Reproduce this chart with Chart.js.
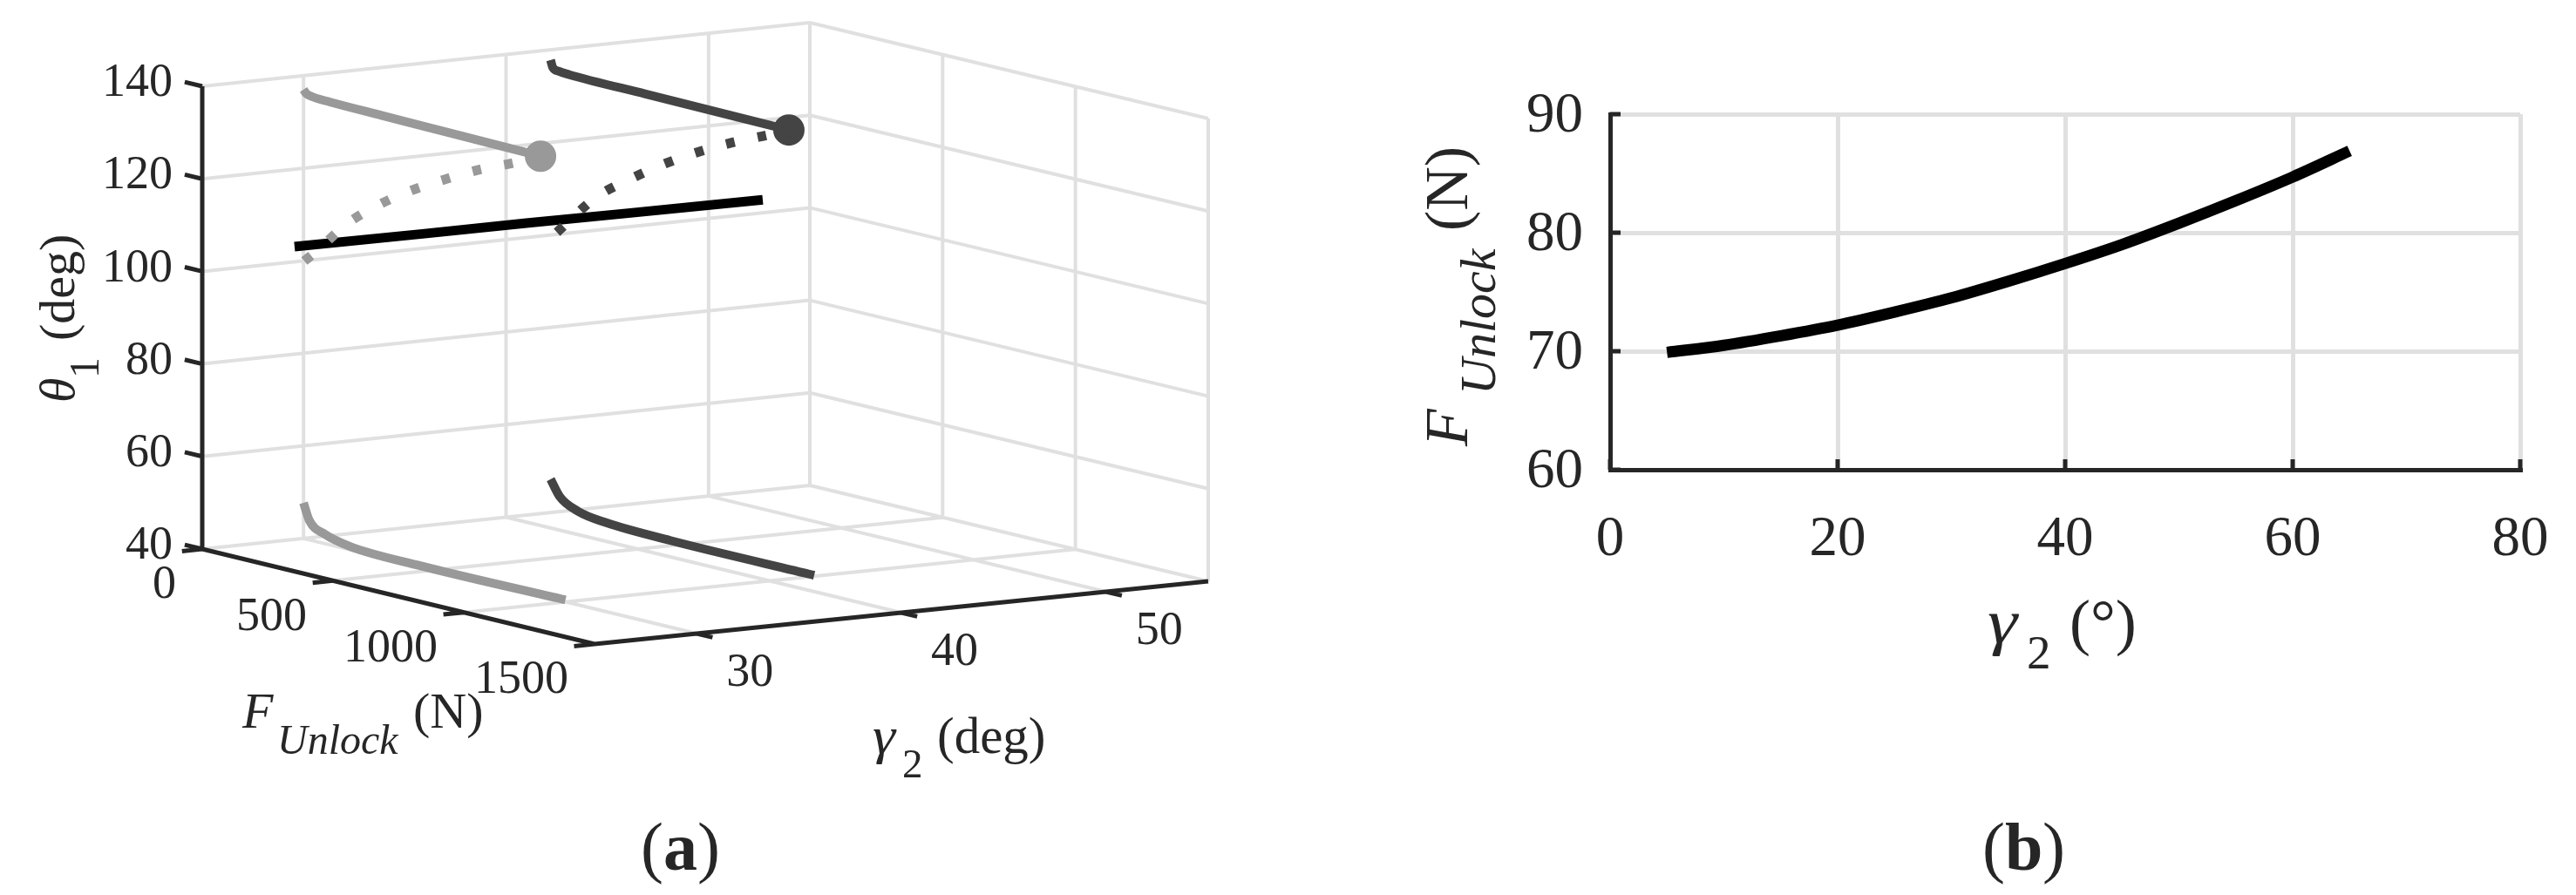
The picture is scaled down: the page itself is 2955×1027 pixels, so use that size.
<!DOCTYPE html>
<html>
<head>
<meta charset="utf-8">
<script src="https://cdn.jsdelivr.net/npm/chart.js@4/dist/chart.umd.min.js"></script>
<style>
  html, body { margin: 0; background: #fff; }
  canvas { position: absolute; top: 0; }
  #chartA { left: 0; }
  #chartB { left: 1478px; }
</style>
</head>
<body>
<canvas id="chartA" width="1478" height="1027"></canvas>
<canvas id="chartB" width="1477" height="1027"></canvas>
<script>
// (a) tick labels
const gammaTicks = [30, 40, 50];
const forceTicks = [0, 500, 1000, 1500];
const thetaTicks = [40, 60, 80, 100, 120, 140];

// (a) gamma2 = 30 curves, light grey
const lightGamma = 30;
const lightTopF = [0, 10, 33, 100, 300, 540, 904];
const lightTopTheta = [137.0, 136.3, 135.9, 135.7, 135.5, 135.3, 135.0];
const lightBottomF = [0, 22, 82, 178, 448, 999];
const lightBottomTheta = [47.7, 44.2, 42.0, 40.7, 40.2, 40.4];
const lightDotF = [3, 52, 161, 275, 402, 530, 671, 804, 904];
const lightDotTheta = [100.0, 102.9, 110.0, 115.5, 120.5, 124.7, 128.9, 132.2, 135.0];

// (a) gamma2 = 42 curves, dark grey
const darkGamma = 42.2;
const darkTopF = [0, 8, 30, 71, 360, 903];
const darkTopTheta = [137.8, 136.3, 135.8, 135.6, 135.4, 135.1];
const darkBottomF = [0, 35, 104, 211, 454, 999];
const darkBottomTheta = [47.2, 43.9, 41.7, 40.7, 40.2, 40.2];
const darkDotF = [24, 176, 299, 424, 556, 684, 823, 903];
const darkDotTheta = [100.9, 110.7, 116.1, 121.0, 125.5, 129.3, 132.9, 135.1];

// (a) black line
const blackGamma = [28.6, 35, 40, 45, 51.6];
const blackF = [74, 75, 77, 79, 82];
const blackTheta = [104.7, 104.6, 104.6, 104.5, 104.4];

// (b)
const curveGamma = [5, 10, 15, 20, 25, 30, 35, 40, 45, 50, 55, 60, 65];
const curveForce = [69.9, 70.5, 71.3, 72.2, 73.3, 74.5, 75.9, 77.4, 79.0, 80.8, 82.7, 84.7, 86.9];
const xTicksB = [0, 20, 40, 60, 80];
const yTicksB = [60, 70, 80, 90];

const SERIF = '"Liberation Serif"';
const TEXT = '#262626';
const GRID = '#e0e0e0';

// MATLAB style 3D box: floor corners on the page, slight perspective
const G0 = 25, G1 = 55, F0 = 0, F1 = 1500, T0 = 40;
const corners = { back0: [232, 630], back1: [929, 557], front0: [682, 739], front1: [1386, 667] };
function project(g, f, t) {
  const u = (g - G0) / (G1 - G0), v = (f - F0) / (F1 - F0);
  const c = corners;
  const at = i => (1 - u) * (1 - v) * c.back0[i] + u * (1 - v) * c.back1[i] + (1 - u) * v * c.front0[i] + u * v * c.front1[i];
  return { x: at(0), y: at(1) - 5.31 * (t - T0) };
}
const gap = { x: NaN, y: NaN };

function segments(list) {
  const pts = [];
  list.forEach(s => { s.forEach(p => pts.push(project(p[0], p[1], p[2]))); pts.push(gap); });
  return pts;
}

// walls and floor
const gridSegs = [];
thetaTicks.forEach(t => {
  gridSegs.push([[G0, F0, t], [G1, F0, t]]);
  gridSegs.push([[G1, F0, t], [G1, F1, t]]);
});
gammaTicks.forEach(g => {
  gridSegs.push([[g, F0, 40], [g, F0, 140]]);
  gridSegs.push([[g, F0, 40], [g, F1, 40]]);
});
forceTicks.slice(1).forEach(f => {
  gridSegs.push([[G1, f, 40], [G1, f, 140]]);
  if (f < F1) gridSegs.push([[G0, f, 40], [G1, f, 40]]);
});
gridSegs.push([[G1, F0, 40], [G1, F0, 140]]);

const axisSegs = [
  [[G0, F0, 40], [G0, F0, 140]],
  [[G0, F0, 40], [G0, F1, 40]],
  [[G0, F1, 40], [G1, F1, 40]]
];
thetaTicks.forEach(t => axisSegs.push([[G0, F0, t], [G0, -67, t]]));
forceTicks.forEach(f => axisSegs.push([[G0, f, 40], [24, f, 40]]));
gammaTicks.forEach(g => axisSegs.push([[g, F1, 40], [g, 1560, 40]]));

function curve(gs, fs, ts) {
  return fs.map((f, i) => project(Array.isArray(gs) ? gs[i] : gs, f, ts[i]));
}

function line(data, color, width, extra) {
  return Object.assign({
    type: 'scatter', data: data, showLine: true, borderColor: color, backgroundColor: color,
    borderWidth: width, pointRadius: 0, borderCapStyle: 'butt', spanGaps: false
  }, extra || {});
}
const smooth = { cubicInterpolationMode: 'monotone' };
const endDot = pts => ({ pointRadius: ctx => ctx.dataIndex === pts.length - 1 ? 13 : 0 });

// draw order, first at the bottom
const lightTop = curve(lightGamma, lightTopF, lightTopTheta);
const darkTop = curve(darkGamma, darkTopF, darkTopTheta);
const layersA = [
  line(segments(gridSegs), GRID, 4),
  line(curve(lightGamma, lightBottomF, lightBottomTheta), '#999999', 10, smooth),
  line(curve(darkGamma, darkBottomF, darkBottomTheta), '#444444', 10, smooth),
  line(curve(blackGamma, blackF, blackTheta), '#000000', 11),
  line(curve(lightGamma, lightDotF, lightDotTheta), '#999999', 11, Object.assign({ borderDash: [10, 27] }, smooth)),
  line(curve(darkGamma, darkDotF, darkDotTheta), '#444444', 11, Object.assign({ borderDash: [10, 27] }, smooth)),
  line(lightTop, '#999999', 10, Object.assign(endDot(lightTop), smooth)),
  line(darkTop, '#444444', 10, Object.assign(endDot(darkTop), smooth)),
  line(segments(axisSegs), TEXT, 5)
];
layersA.forEach((d, i) => { d.order = layersA.length - i; });

// text with subscripts, x/y start the baseline, along = distance along it, wide = stretch of a glyph
function rich(ctx, x, y, rotate, parts) {
  ctx.save();
  ctx.translate(x, y);
  ctx.rotate(rotate);
  ctx.textAlign = 'left';
  ctx.textBaseline = 'alphabetic';
  ctx.fillStyle = TEXT;
  parts.forEach(p => {
    ctx.save();
    ctx.font = p.font;
    ctx.translate(p.along, p.drop || 0);
    ctx.scale(p.wide || 1, 1);
    ctx.fillText(p.text, 0, 0);
    ctx.restore();
  });
  ctx.restore();
}

const plainFont = s => s + 'px ' + SERIF;
const italicFont = s => 'italic ' + s + 'px ' + SERIF;
const boldFont = s => 'bold ' + s + 'px ' + SERIF;

const labelsA = {
  id: 'labelsA',
  afterDraw(chart) {
    const ctx = chart.ctx;
    const sx = chart.scales.x, sy = chart.scales.y;
    ctx.save();
    ctx.fillStyle = TEXT;
    ctx.font = plainFont(54);
    ctx.textBaseline = 'middle';
    ctx.textAlign = 'right';
    thetaTicks.forEach(t => {
      const p = project(G0, F0, t);
      ctx.fillText(String(t), sx.getPixelForValue(p.x) - 34, sy.getPixelForValue(p.y) - 3);
    });
    forceTicks.forEach(f => {
      const p = project(G0, f, 40);
      ctx.fillText(String(f), sx.getPixelForValue(p.x) - 30, sy.getPixelForValue(p.y) + 42);
    });
    ctx.textAlign = 'center';
    gammaTicks.forEach(g => {
      const p = project(g, F1, 40);
      ctx.fillText(String(g), sx.getPixelForValue(p.x) + 61, sy.getPixelForValue(p.y) + 46);
    });
    ctx.restore();

    rich(ctx, 85, 462, -Math.PI / 2, [
      { text: 'θ', font: italicFont(58), along: 0 },
      { text: '1', font: plainFont(48), along: 28, drop: 28 },
      { text: '(deg)', font: plainFont(58), along: 71 }
    ]);
    rich(ctx, 278, 835, 0, [
      { text: 'F', font: italicFont(58), along: 0 },
      { text: 'Unlock', font: italicFont(48), along: 40, drop: 30 },
      { text: '(N)', font: plainFont(58), along: 196 }
    ]);
    rich(ctx, 1000, 864, 0, [
      { text: 'γ', font: italicFont(60), along: 1, wide: 1.1 },
      { text: '2', font: plainFont(47), along: 35, drop: 28 },
      { text: '(deg)', font: plainFont(59), along: 75 }
    ]);
    rich(ctx, 735, 998, 0, [
      { text: '(', font: plainFont(78), along: 0 },
      { text: 'a', font: boldFont(78), along: 26 },
      { text: ')', font: plainFont(78), along: 65 }
    ]);
  }
};

new Chart(document.getElementById('chartA'), {
  data: { datasets: layersA },
  options: {
    responsive: false,
    animation: false,
    layout: { padding: 0, autoPadding: false },
    plugins: { legend: { display: false }, tooltip: { enabled: false } },
    scales: {
      x: { type: 'linear', display: false, min: 0, max: 1478 },
      y: { type: 'linear', display: false, min: 0, max: 1027, reverse: true }
    }
  },
  plugins: [labelsA]
});

const labelsB = {
  id: 'labelsB',
  afterDraw(chart) {
    const ctx = chart.ctx;
    const sx = chart.scales.x, sy = chart.scales.y;
    const a = chart.chartArea;
    // inward ticks
    ctx.save();
    ctx.strokeStyle = TEXT;
    ctx.lineWidth = 5;
    ctx.beginPath();
    xTicksB.forEach(v => {
      const px = sx.getPixelForValue(v);
      ctx.moveTo(px, a.bottom);
      ctx.lineTo(px, a.bottom - 12);
    });
    yTicksB.forEach(v => {
      const py = sy.getPixelForValue(v);
      ctx.moveTo(a.left, py);
      ctx.lineTo(a.left + 12, py);
    });
    ctx.stroke();
    ctx.restore();

    rich(ctx, 1683 - 1478, 512, -Math.PI / 2, [
      { text: 'F', font: italicFont(70), along: 0 },
      { text: 'Unlock', font: italicFont(58), along: 59, drop: 32 },
      { text: '(N)', font: plainFont(70), along: 247 }
    ]);
    rich(ctx, 2280 - 1478, 738, 0, [
      { text: 'γ', font: italicFont(72), along: 0, wide: 1.2 },
      { text: '2', font: plainFont(55), along: 45, drop: 29 },
      { text: '(°)', font: plainFont(72), along: 94 }
    ]);
    rich(ctx, 2274 - 1478, 998, 0, [
      { text: '(', font: plainFont(78), along: 0 },
      { text: 'b', font: boldFont(78), along: 26 },
      { text: ')', font: plainFont(78), along: 69 }
    ]);
  }
};

new Chart(document.getElementById('chartB'), {
  data: {
    datasets: [line(curveGamma.map((g, i) => ({ x: g, y: curveForce[i] })), '#000000', 13, smooth)]
  },
  options: {
    responsive: false,
    animation: false,
    layout: { padding: { top: 131, right: 64, bottom: 0, left: 0 }, autoPadding: false },
    plugins: { legend: { display: false }, tooltip: { enabled: false } },
    scales: {
      x: {
        type: 'linear', min: 0, max: 80,
        afterBuildTicks: s => { s.ticks = xTicksB.map(v => ({ value: v })); },
        afterFit: s => { s.height = 488; s.paddingLeft = 0; s.paddingRight = 0; },
        grid: { color: GRID, lineWidth: 5, drawTicks: false },
        border: { color: TEXT, width: 5 },
        ticks: { color: TEXT, font: { family: SERIF, size: 65 }, padding: 42, maxRotation: 0 }
      },
      y: {
        type: 'linear', min: 60, max: 90,
        afterBuildTicks: s => { s.ticks = yTicksB.map(v => ({ value: v })); },
        afterFit: s => { s.width = 1847 - 1478; s.paddingTop = 0; s.paddingBottom = 0; },
        grid: { color: GRID, lineWidth: 5, drawTicks: false },
        border: { color: TEXT, width: 5 },
        ticks: { color: TEXT, font: { family: SERIF, size: 65 }, padding: 31, labelOffset: 3 }
      }
    }
  },
  plugins: [labelsB]
});
</script>
</body>
</html>
